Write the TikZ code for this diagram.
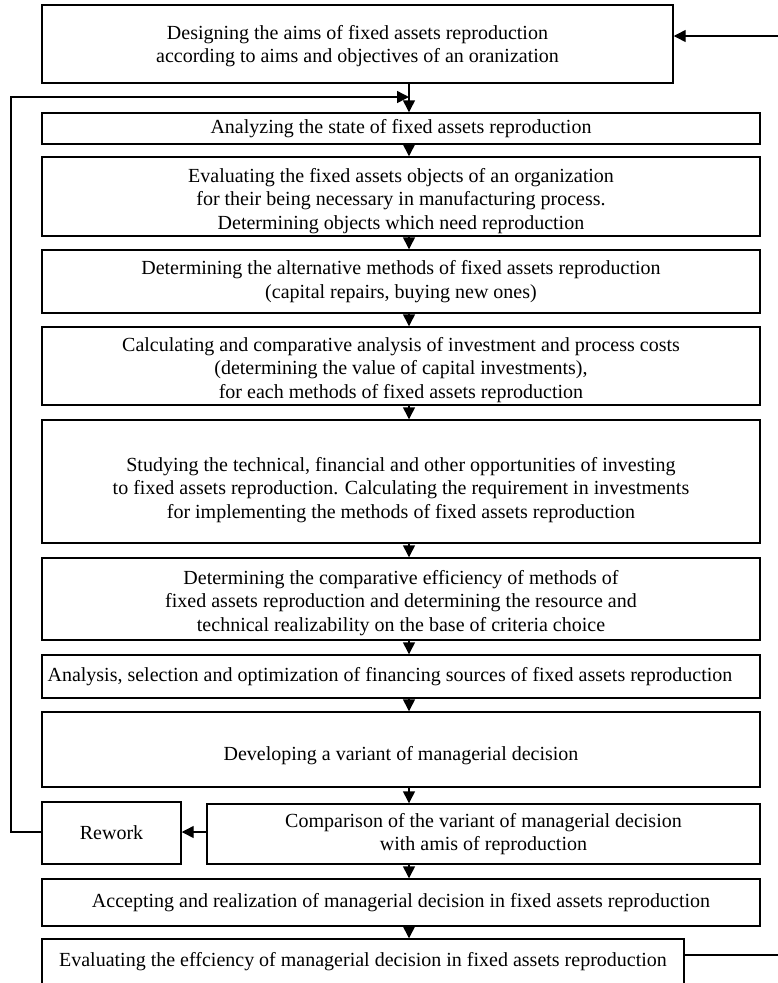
\documentclass[tikz,border=0pt]{standalone}
\usepackage{fontspec}
\setmainfont{Liberation Serif}
\usetikzlibrary{arrows.meta}
\begin{document}
\begin{tikzpicture}[x=0.75pt,y=-0.75pt,
  box/.style={draw, line width=1.1pt, align=center, inner sep=2pt,
    font=\fontsize{15}{17.5}\selectfont},
  txt/.style={align=center, inner sep=0pt, font=\fontsize{15}{17.5}\selectfont},
  conn/.style={line width=1.1pt, -{Triangle[length=9pt,width=9pt]}},
  plain/.style={line width=1.1pt}]
\useasboundingbox (0,0) rectangle (778,983);
\coordinate (ax) at (409,0);
% boxes (centre, width, height in px)
\node[box, minimum width=631*0.75pt, minimum height=78*0.75pt] (b1) at (357.5,44) {};
\node[txt] (t1) at (357.5,46)
  {Designing the aims of fixed assets reproduction\\according to aims and objectives of an oranization};
\node[box, minimum width=718*0.75pt, minimum height=31*0.75pt] (b2) at (401,128.5)
  {Analyzing the state of fixed assets reproduction};
\node[box, minimum width=718*0.75pt, minimum height=79*0.75pt] (b3) at (401,196.5) {};
\node[txt] (t3) at (401,201)
  {Evaluating the fixed assets objects of an organization\\for their being necessary in manufacturing process.\\Determining objects which need reproduction};
\node[box, minimum width=718*0.75pt, minimum height=63*0.75pt] (b4) at (401,281.5)
  {Determining the alternative methods of fixed assets reproduction\\(capital repairs, buying new ones)};
\node[box, minimum width=718*0.75pt, minimum height=78*0.75pt] (b5) at (401,366) {};
\node[txt] (t5) at (401,370)
  {Calculating and comparative analysis of investment and process costs\\(determining the value of capital investments),\\for each methods of fixed assets reproduction};
\node[box, minimum width=718*0.75pt, minimum height=123*0.75pt] (b6) at (401,481.5) {};
\node[txt] (t6) at (401,490)
  {Studying the technical, financial and other opportunities of investing\\to fixed assets reproduction. Calculating the requirement in investments\\for implementing the methods of fixed assets reproduction};
\node[box, minimum width=718*0.75pt, minimum height=82*0.75pt] (b7) at (401,599) {};
\node[txt] (t7) at (401,603)
  {Determining the comparative efficiency of methods of\\fixed assets reproduction and determining the resource and\\technical realizability on the base of criteria choice};
\node[box, minimum width=718*0.75pt, minimum height=43*0.75pt] (b8) at (401,676.5) {};
\node[txt] (t8) at (390,676.5)
  {Analysis, selection and optimization of financing sources of fixed assets reproduction};
\node[box, minimum width=718*0.75pt, minimum height=75*0.75pt] (b9) at (401,749.5) {};
\node[txt] (t9) at (401,756)
  {Developing a variant of managerial decision};
\node[box, minimum width=139*0.75pt, minimum height=62*0.75pt] (rw) at (111.5,833)
  {Rework};
\node[box, minimum width=553*0.75pt, minimum height=60*0.75pt] (b10) at (483.5,834)
  {Comparison of the variant of managerial decision\\with amis of reproduction};
\node[box, minimum width=718*0.75pt, minimum height=47*0.75pt] (b11) at (401,902.5)
  {Accepting and realization of managerial decision in fixed assets reproduction};
\node[box, minimum width=642*0.75pt, minimum height=46*0.75pt] (b12) at (363,962)
  {Evaluating the effciency of managerial decision in fixed assets reproduction};
% vertical flow
\draw[conn] (b1.south -| ax) -- (b2.north -| ax);
\draw[conn] (b2.south -| ax) -- (b3.north -| ax);
\draw[conn] (b3.south -| ax) -- (b4.north -| ax);
\draw[conn] (b4.south -| ax) -- (b5.north -| ax);
\draw[conn] (b5.south -| ax) -- (b6.north -| ax);
\draw[conn] (b6.south -| ax) -- (b7.north -| ax);
\draw[conn] (b7.south -| ax) -- (b8.north -| ax);
\draw[conn] (b8.south -| ax) -- (b9.north -| ax);
\draw[conn] (b9.south -| ax) -- (b10.north -| ax);
\draw[conn] (b10.south -| ax) -- (b11.north -| ax);
\draw[conn] (b11.south -| ax) -- (b12.north -| ax);
% rework
\coordinate (rwy) at (0,832);
\draw[conn] (b10.west |- rwy) -- (rw.east |- rwy);
\coordinate (lp1) at (11,832);
\coordinate (lp2) at (11,97);
\coordinate (lp3) at (409,97);
\draw[conn] (rw.west |- rwy) -- (lp1) -- (lp2) -- (lp3);
% feedback from evaluation to top
\coordinate (fb1) at (778,955);
\coordinate (fb2) at (778,36);
\draw[plain] (b12.east |- fb1) -- (fb1);
\draw[conn] (fb2) -- (b1.east |- fb2);
\end{tikzpicture}
\end{document}
